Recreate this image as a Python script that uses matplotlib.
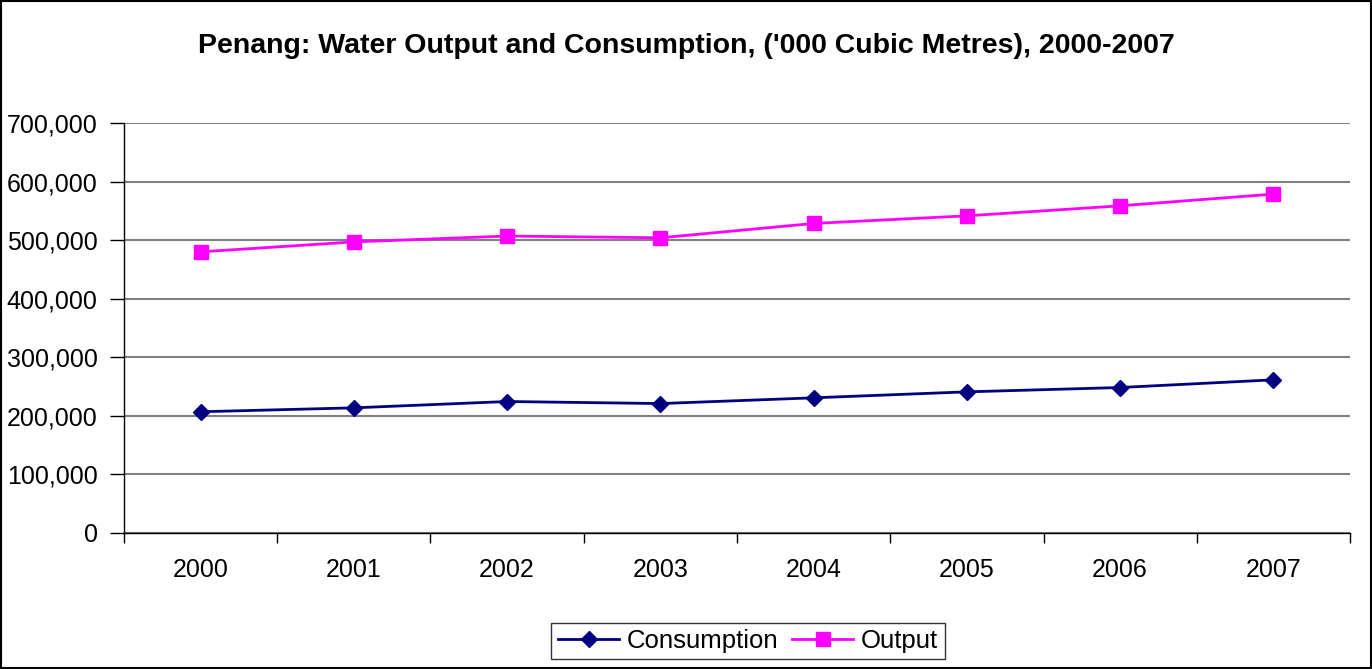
import matplotlib.pyplot as plt
from matplotlib.patches import Rectangle
from matplotlib.ticker import FuncFormatter

years = ["2000", "2001", "2002", "2003", "2004", "2005", "2006", "2007"]
consumption = [207000, 213700, 224500, 221000, 230800, 241000, 248400, 261500]
output = [480000, 497000, 507000, 504000, 528500, 541500, 558600, 578600]

plt.rcParams["font.family"] = ["Liberation Sans", "DejaVu Sans"]

fig = plt.figure(figsize=(13.72, 6.69), dpi=100)
ax = fig.add_axes([124 / 1372, 1 - 533 / 669, 1226 / 1372, 410 / 669])

x = list(range(len(years)))
ax.plot(x, consumption, color="#000080", marker="D", markersize=8, linewidth=2, label="Consumption")
ax.plot(x, output, color="#FF00FF", marker="s", markersize=9.5, linewidth=2, label="Output")

ax.set_xlim(-0.5, len(years) - 0.5)
ax.set_ylim(0, 700000)
ax.set_yticks(range(0, 700001, 100000))
ax.yaxis.set_major_formatter(FuncFormatter(lambda v, p: f"{int(v):,}"))
ax.yaxis.grid(True, color="#808080", linewidth=1.5)
ax.set_axisbelow(True)

ax.set_xticks(x)
ax.set_xticklabels(years)
ax.set_xticks([i - 0.5 for i in range(len(years) + 1)], minor=True)
ax.tick_params(axis="x", which="major", length=0, pad=18, labelsize=18)
ax.tick_params(axis="x", which="minor", length=7, width=1)
ax.tick_params(axis="y", length=10, width=1, pad=9, labelsize=18)

for s in ["top", "right"]:
    ax.spines[s].set_visible(False)
ax.spines["left"].set_linewidth(1)
ax.spines["bottom"].set_linewidth(1)

fig.text(0.5, 1 - 46 / 669, "Penang: Water Output and Consumption, ('000 Cubic Metres), 2000-2007",
         ha="center", va="center", fontsize=20.5, fontweight="bold")

leg = fig.legend(loc="center", bbox_to_anchor=(748 / 1372, 1 - 641 / 669), ncol=2, fontsize=18.5,
                 frameon=True, fancybox=False, edgecolor="black", handlelength=2.4,
                 columnspacing=0.5, handletextpad=0.3, borderpad=0.25)
leg.get_frame().set_linewidth(1)

fig.patches.append(Rectangle((0.001, 0.001), 0.998, 0.997, transform=fig.transFigure,
                             fill=False, edgecolor="black", linewidth=1.5))

plt.savefig("out.png", dpi=100)
